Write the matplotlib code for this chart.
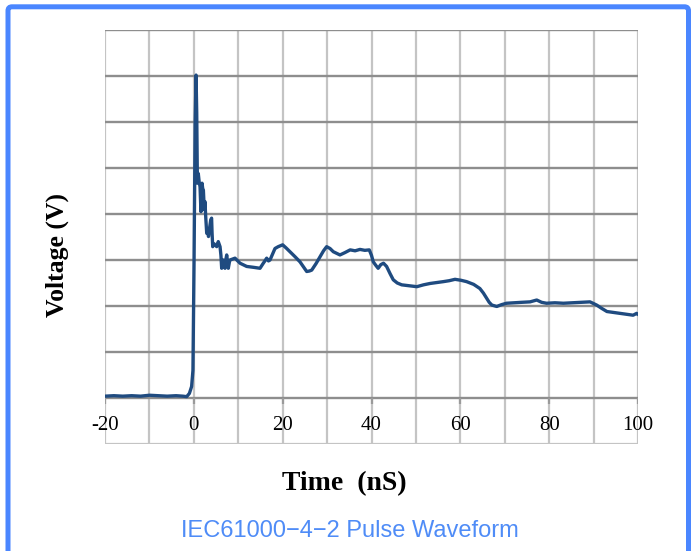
import matplotlib
matplotlib.use("Agg")
import matplotlib.pyplot as plt
from matplotlib.patches import FancyBboxPatch
from matplotlib.transforms import IdentityTransform

# ---- data ----
time_ns = [-20, -18, -16, -14, -12, -10, -8, -6, -4, -2.5, -1.6, -1.0, -0.5, -0.2,
           0.05, 0.3, 0.5, 0.65, 0.8, 1.0, 1.2, 1.4, 1.6, 1.85, 2.0, 2.15, 2.35, 2.5,
           2.7, 2.9, 3.1, 3.3, 3.55, 3.8, 4.0, 4.1, 4.25, 4.6, 5.15, 5.5, 5.9, 6.1,
           6.27, 6.45, 6.63, 6.8, 7.02, 7.2, 7.4, 7.6, 7.76, 8.0, 8.14, 8.7, 9.27,
           10.4, 11.9, 13.5, 14.9, 15.3, 15.64, 16.0, 16.4, 16.8, 17.15, 17.7, 18.27,
           19.0, 20.0, 20.8, 21.65, 22.8, 23.9, 24.7, 25.41, 26.0, 26.54, 27.5, 28.4,
           29.2, 29.9, 30.66, 31.4, 32.9, 34.0, 35.2, 36.3, 37.4, 38.5, 39.5, 40.0,
           40.4, 41.0, 41.5, 42.1, 42.7, 43.4, 44.2, 44.9, 45.8, 46.8, 48.5, 50.2,
           51.7, 53.2, 54.7, 56.2, 57.5, 58.8, 60.1, 61.4, 63.0, 64.4, 65.2, 65.9,
           66.5, 67.1, 68.2, 69.3, 70.4, 72.0, 73.8, 75.7, 77.2, 78.3, 79.4, 81.3,
           83.2, 85.2, 87.2, 89.2, 90.7, 91.8, 93.0, 94.5, 95.9, 97.4, 98.9, 99.7, 100]
voltage = [0.04, 0.05, 0.04, 0.05, 0.04, 0.06, 0.05, 0.04, 0.05, 0.04, 0.03, 0.10, 0.25, 0.6,
           3.0, 6.0, 7.02, 6.2, 4.67, 4.88, 4.7, 4.59, 4.05, 4.67, 4.55, 4.52, 4.1, 4.27,
           3.9, 3.58, 3.65, 3.51, 3.7, 3.87, 3.91, 3.6, 3.29, 3.35, 3.29, 3.40, 3.29, 3.1,
           2.82, 2.95, 3.0, 2.85, 2.82, 3.0, 3.11, 2.95, 2.82, 2.95, 3.0, 3.02, 3.04,
           2.93, 2.86, 2.84, 2.82, 2.88, 2.93, 2.98, 3.04, 2.98, 3.0, 3.12, 3.25,
           3.29, 3.33, 3.26, 3.18, 3.07, 2.96, 2.85, 2.75, 2.76, 2.78, 2.92, 3.07,
           3.2, 3.29, 3.25, 3.18, 3.11, 3.16, 3.22, 3.2, 3.23, 3.21, 3.22, 3.1,
           2.96, 2.88, 2.82, 2.9, 2.93, 2.86, 2.7, 2.57, 2.5, 2.46, 2.44, 2.42,
           2.46, 2.49, 2.51, 2.53, 2.55, 2.58, 2.56, 2.53, 2.47, 2.38, 2.28, 2.17,
           2.08, 2.02, 1.99, 2.03, 2.06, 2.07, 2.08, 2.09, 2.13, 2.08, 2.06, 2.07,
           2.06, 2.07, 2.08, 2.09, 2.02, 1.95, 1.88, 1.86, 1.84, 1.82, 1.80, 1.84, 1.82]
x_ticks = [-20, 0, 20, 40, 60, 80, 100]
x_tick_labels = ["-20", "0", "20", "40", "60", "80", "100"]
x_grid = list(range(-20, 101, 10))
y_grid = list(range(0, 9))

SERIF = ["Liberation Serif", "DejaVu Serif"]
SANS = ["Liberation Sans", "DejaVu Sans"]

fig = plt.figure(figsize=(6.96, 5.51), dpi=100)
ax = fig.add_axes([105 / 696, 107 / 551, 533 / 696, 414 / 551])
ax.set_xlim(-20, 100)
ax.set_ylim(-1, 8)
for s in ax.spines.values():
    s.set_visible(False)
ax.set_xticks([])
ax.set_yticks([])

light = "#c4c4c4"
dark = "#8e8e8e"
for xv in x_grid:
    ax.axvline(xv, color=light, lw=1.6, zorder=1)
ax.axhline(-1, color=light, lw=1.6, zorder=1)
for yv in y_grid:
    ax.axhline(yv, color=dark, lw=1.7, zorder=2)
for xv in x_ticks:
    ax.plot([xv, xv], [0, -0.12], color="#9a9a9a", lw=1.6, zorder=2, solid_capstyle="butt")

ax.plot(time_ns, voltage, color="#1f4b80", lw=2.4, zorder=3, solid_joinstyle="round")

for xv, lab in zip(x_ticks, x_tick_labels):
    ax.text(xv, -0.6, lab, ha="center", va="center", fontsize=15, family=SERIF, zorder=4)

fig.text(57 / 696, (551 - 255) / 551, "Voltage (V)", rotation=90, ha="center", va="center",
         fontsize=18.5, fontweight="bold", family=SERIF)
fig.text(344 / 696, (551 - 484) / 551, "Time  (nS)", ha="center", va="center",
         fontsize=20, fontweight="bold", family=SERIF)
fig.text(350 / 696, (551 - 531) / 551, "IEC61000\u22124\u22122 Pulse Waveform", ha="center", va="center",
         fontsize=17, color="#4f8cf7", family=SANS)

border = FancyBboxPatch((8, -20), 680.5, 564.2, boxstyle="round,pad=0,rounding_size=4",
                        transform=IdentityTransform(), fill=False, edgecolor="#4a86ff",
                        linewidth=3.6)
fig.add_artist(border)

fig.savefig("out.png", dpi=100)
